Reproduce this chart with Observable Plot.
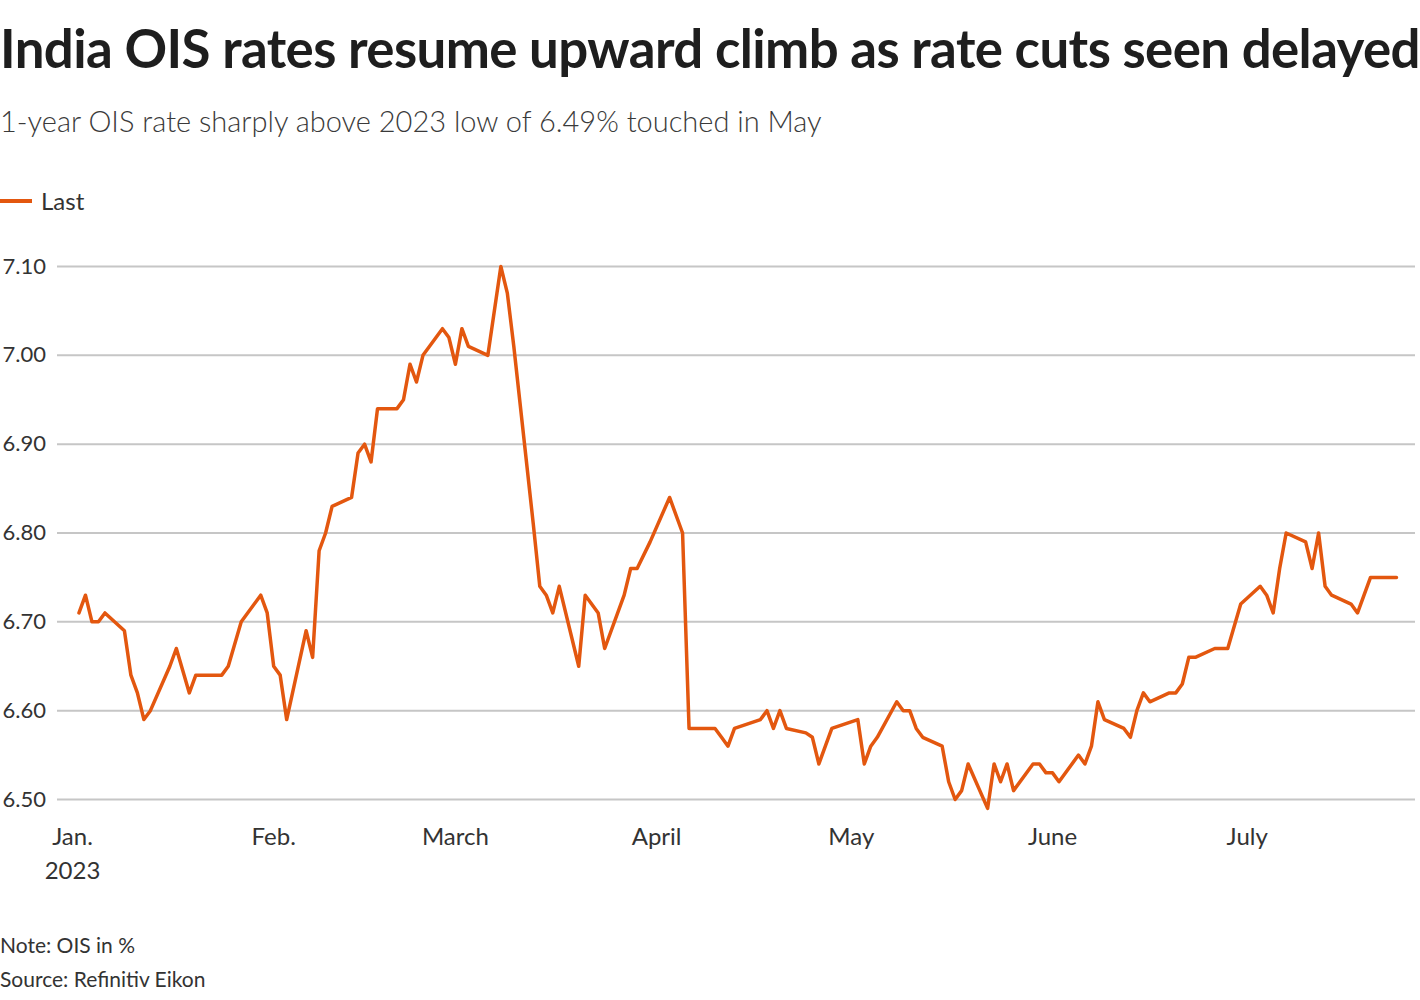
<!DOCTYPE html>
<html>
<head>
<meta charset="utf-8">
<script src="https://cdn.jsdelivr.net/npm/d3@7"></script>
<script src="https://cdn.jsdelivr.net/npm/@observablehq/plot@0.6"></script>
<style>
  html, body { margin: 0; padding: 0; background: #fff; }
  body { width: 1420px; height: 1000px; position: relative; overflow: hidden; font-family: Lato, "Noto Sans", sans-serif; color: #222; }
  .abs { position: absolute; left: 0; white-space: nowrap; }
  #title { top: 16px; font-size: 52.8px; font-weight: 700; color: #1e1e1e; letter-spacing: -0.6px; }
  #subtitle { top: 103px; font-size: 29px; font-weight: 300; color: #3a3a3a; }
  #legend { top: 186px; font-size: 24px; color: #333; display: flex; align-items: center; }
  #legend .sw { width: 32px; height: 4px; background: #e3570f; margin-right: 9px; }
  #chart { position: absolute; left: 0; top: 240px; }
  #note { top: 932px; font-size: 21px; color: #333; }
  #source { top: 966px; font-size: 21px; color: #333; }
</style>
</head>
<body>
<div id="title" class="abs">India OIS rates resume upward climb as rate cuts seen delayed</div>
<div id="subtitle" class="abs">1-year OIS rate sharply above 2023 low of 6.49% touched in May</div>
<div id="legend" class="abs"><span class="sw"></span><span>Last</span></div>
<div id="chart"></div>
<div id="note" class="abs">Note: OIS in %</div>
<div id="source" class="abs">Source: Refinitiv Eikon</div>
<script>
const dates = [
  "2023-01-02","2023-01-03","2023-01-04","2023-01-05","2023-01-06",
  "2023-01-09","2023-01-10","2023-01-11","2023-01-12","2023-01-13",
  "2023-01-16","2023-01-17","2023-01-18","2023-01-19","2023-01-20",
  "2023-01-23","2023-01-24","2023-01-25","2023-01-27",
  "2023-01-30","2023-01-31","2023-02-01","2023-02-02","2023-02-03",
  "2023-02-06","2023-02-07","2023-02-08","2023-02-09","2023-02-10",
  "2023-02-13","2023-02-14","2023-02-15","2023-02-16","2023-02-17",
  "2023-02-20","2023-02-21","2023-02-22","2023-02-23","2023-02-24",
  "2023-02-27","2023-02-28","2023-03-01","2023-03-02","2023-03-03",
  "2023-03-06","2023-03-08","2023-03-09","2023-03-10",
  "2023-03-13","2023-03-14","2023-03-15","2023-03-16","2023-03-17",
  "2023-03-20","2023-03-21","2023-03-23","2023-03-24",
  "2023-03-27","2023-03-28","2023-03-29","2023-03-31",
  "2023-04-03","2023-04-05","2023-04-06",
  "2023-04-10","2023-04-11","2023-04-12","2023-04-13",
  "2023-04-17","2023-04-18","2023-04-19","2023-04-20","2023-04-21",
  "2023-04-24","2023-04-25","2023-04-26","2023-04-27","2023-04-28",
  "2023-05-02","2023-05-03","2023-05-04","2023-05-05",
  "2023-05-08","2023-05-09","2023-05-10","2023-05-11","2023-05-12",
  "2023-05-15","2023-05-16","2023-05-17","2023-05-18","2023-05-19",
  "2023-05-22","2023-05-23","2023-05-24","2023-05-25","2023-05-26",
  "2023-05-29","2023-05-30","2023-05-31","2023-06-01","2023-06-02",
  "2023-06-05","2023-06-06","2023-06-07","2023-06-08","2023-06-09",
  "2023-06-12","2023-06-13","2023-06-14","2023-06-15","2023-06-16",
  "2023-06-19","2023-06-20","2023-06-21","2023-06-22","2023-06-23",
  "2023-06-26","2023-06-27","2023-06-28","2023-06-30",
  "2023-07-03","2023-07-04","2023-07-05","2023-07-06","2023-07-07",
  "2023-07-10","2023-07-11","2023-07-12","2023-07-13","2023-07-14",
  "2023-07-17","2023-07-18","2023-07-19","2023-07-20","2023-07-21",
  "2023-07-24"
];
const rates = [
  6.71,6.73,6.70,6.70,6.71,
  6.69,6.64,6.62,6.59,6.60,
  6.65,6.67,6.645,6.62,6.64,
  6.64,6.64,6.65,6.70,
  6.73,6.71,6.65,6.64,6.59,
  6.69,6.66,6.78,6.80,6.83,
  6.84,6.89,6.90,6.88,6.94,
  6.94,6.95,6.99,6.97,7.00,
  7.03,7.02,6.99,7.03,7.01,
  7.00,7.10,7.07,7.01,
  6.81,6.74,6.73,6.71,6.74,
  6.65,6.73,6.71,6.67,
  6.73,6.76,6.76,6.79,
  6.84,6.80,6.58,
  6.58,6.57,6.56,6.58,
  6.59,6.60,6.58,6.60,6.58,
  6.575,6.57,6.54,6.56,6.58,
  6.59,6.54,6.56,6.57,
  6.61,6.60,6.60,6.58,6.57,
  6.56,6.52,6.50,6.51,6.54,
  6.49,6.54,6.52,6.54,6.51,
  6.54,6.54,6.53,6.53,6.52,
  6.55,6.54,6.56,6.61,6.59,
  6.58,6.57,6.60,6.62,6.61,
  6.62,6.62,6.63,6.66,6.66,
  6.67,6.67,6.67,6.72,
  6.74,6.73,6.71,6.76,6.80,
  6.79,6.76,6.80,6.74,6.73,
  6.72,6.71,6.73,6.75,6.75,
  6.75
];
const yTicks = [6.50, 6.60, 6.70, 6.80, 6.90, 7.00, 7.10];
const monthTicks = ["2023-01-01","2023-02-01","2023-03-01","2023-04-01","2023-05-01","2023-06-01","2023-07-01"];
const monthLabels = ["Jan.\n2023","Feb.","March","April","May","June","July"];

const data = dates.map((d, i) => ({date: new Date(d + "T00:00:00Z"), value: rates[i]}));
const tickDates = monthTicks.map(d => new Date(d + "T00:00:00Z"));
const day = 864e5;
const jan1 = Date.UTC(2023, 0, 1);

const chart = Plot.plot({
  width: 1420,
  height: 660,
  marginTop: 26,
  marginBottom: 101,
  marginLeft: 57,
  marginRight: 5,
  style: {fontFamily: "Lato, 'Noto Sans', sans-serif", color: "#333", background: "transparent"},
  x: {type: "utc", domain: [new Date(jan1 - 2.31 * day), new Date(jan1 + 206.93 * day)]},
  y: {domain: [6.5, 7.1], axis: null},
  marks: [
    Plot.ruleY(yTicks, {stroke: "#c6c6c6", strokeWidth: 2}),
    Plot.text(yTicks, {y: d => d, frameAnchor: "left", dx: -55, textAnchor: "start", text: d => d.toFixed(2), fontSize: 22, fill: "#333"}),
    Plot.axisX({ticks: tickDates, tickSize: 0, tickPadding: 21, fontSize: 24, lineHeight: 1.42, label: null,
      tickFormat: (d) => monthLabels[tickDates.findIndex(t => +t === +d)], fill: "#333"}),
    Plot.line(data, {x: "date", y: "value", stroke: "#e3570f", strokeWidth: 3.5})
  ]
});
document.getElementById("chart").appendChild(chart);
</script>
</body>
</html>
